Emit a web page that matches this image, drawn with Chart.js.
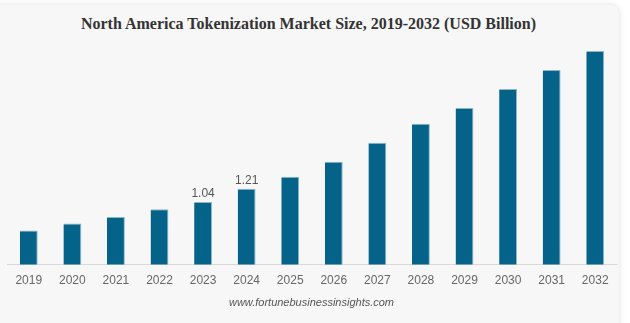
<!DOCTYPE html>
<html>
<head>
<meta charset="utf-8">
<script src="https://cdn.jsdelivr.net/npm/chart.js@4/dist/chart.umd.min.js"></script>
<style>
  html, body { margin: 0; padding: 0; background: #fff; }
  body { width: 630px; height: 323px; position: relative; overflow: hidden; }
  .card {
    position: absolute; left: -10px; top: 5px; width: 629px; height: 340px;
    background: #f7f7f7; border-radius: 8px;
    box-shadow: 0 0 6px rgba(0,0,0,0.13);
  }
  .title {
    position: absolute; left: 0; top: 15px; width: 617px; text-align: center;
    font: bold 16px "Liberation Serif", "Times New Roman", serif; color: #333;
  }
  .footer {
    position: absolute; left: 0; top: 296px; width: 623px; text-align: center;
    font: italic 11px "Liberation Sans", Arial, sans-serif; color: #555;
  }
  #chart { position: absolute; left: 0; top: 0; }
</style>
</head>
<body>
<div class="card"></div>
<div class="title">North America Tokenization Market Size, 2019-2032 (USD Billion)</div>
<canvas id="chart" width="630" height="323"></canvas>
<div class="footer">www.fortunebusinessinsights.com</div>
<script>
// ===============================
// Data
// ===============================
const years = ['2019','2020','2021','2022','2023','2024','2025','2026','2027','2028','2029','2030','2031','2032'];
const marketSize = [0.68, 0.77, 0.85, 0.95, 1.04, 1.21, 1.36, 1.55, 1.79, 2.03, 2.23, 2.47, 2.71, 2.95];
// only these two bars carry a value label in the picture
const shownLabels = [null, null, null, null, '1.04', '1.21', null, null, null, null, null, null, null, null];

// Small plugin to print the value labels above the bars
const barLabels = {
  id: 'barLabels',
  afterDatasetsDraw(chart) {
    const ctx = chart.ctx;
    const meta = chart.getDatasetMeta(0);
    ctx.save();
    ctx.font = '12px "Liberation Sans", Arial, sans-serif';
    ctx.fillStyle = '#555';
    ctx.textAlign = 'center';
    ctx.textBaseline = 'bottom';
    meta.data.forEach((bar, i) => {
      if (shownLabels[i]) ctx.fillText(shownLabels[i], bar.x, bar.y - 2);
    });
    ctx.restore();
  }
};

new Chart(document.getElementById('chart'), {
  type: 'bar',
  data: {
    labels: years,
    datasets: [{
      data: marketSize,
      backgroundColor: '#05638a',
      borderColor: '#8ab6c8',
      borderWidth: { top: 1, right: 1, left: 0, bottom: 0 },
      borderSkipped: 'bottom',
      barPercentage: 0.41,
      categoryPercentage: 1.0
    }]
  },
  options: {
    responsive: false,
    animation: false,
    layout: { padding: { top: 47, left: 7, right: 13, bottom: 26 } },
    plugins: { legend: { display: false }, tooltip: { enabled: false } },
    scales: {
      x: {
        grid: { display: false, drawTicks: false },
        border: { display: true, color: '#d9d9d9', width: 1 },
        ticks: { color: '#666', padding: 9, font: { family: '"Liberation Sans", Arial, sans-serif', size: 12 } }
      },
      y: { display: false, min: 0.25, max: 3.0 }
    }
  },
  plugins: [barLabels]
});
</script>
</body>
</html>
